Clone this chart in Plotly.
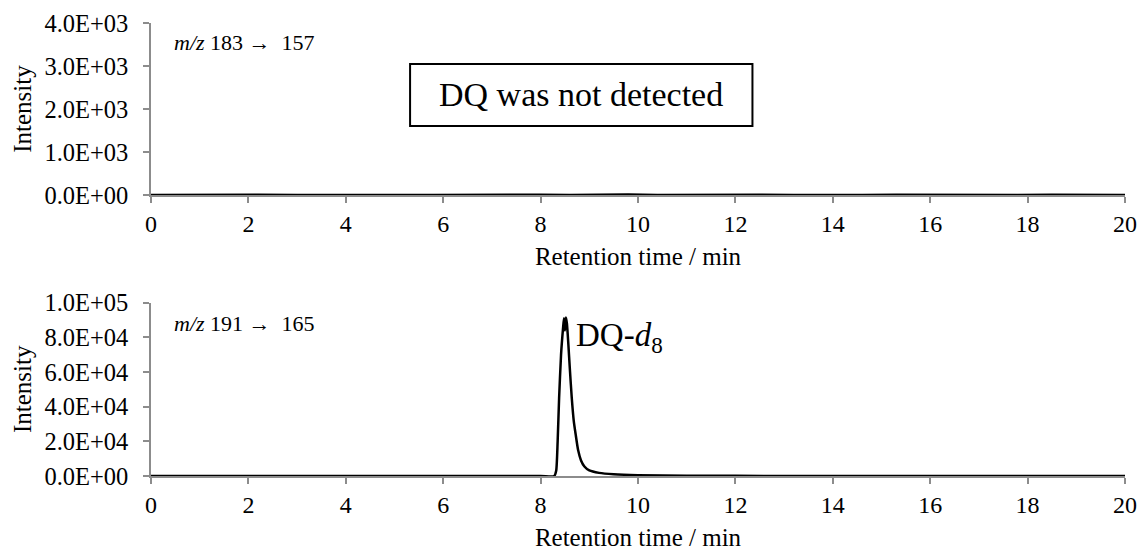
import plotly.graph_objects as go
from plotly.subplots import make_subplots

# Retention time axis ticks
x_ticks = [0, 2, 4, 6, 8, 10, 12, 14, 16, 18, 20]

# m/z 183 -> 157 (DQ): baseline only, small noise
t_dq = [0, 0.7, 1.5, 2.2, 3.0, 3.6, 4.3, 5.0, 5.8, 6.5, 7.2, 8.0, 8.6, 9.2, 9.8, 10.4,
        11.1, 11.8, 12.5, 13.2, 14.0, 14.6, 15.3, 16.0, 16.7, 17.1, 17.8, 18.5, 19.2, 20]
i_dq = [0, 6, 0, 4, 0, 5, 0, 3, 0, 7, 0, 5, 0, 8, 12, 0, 5, 0, 4, 0, 9, 0, 4, 0, 5,
        10, 0, 6, 0, 0]

# m/z 191 -> 165 (DQ-d8)
t_is = [0, 4.0, 8.0, 8.28, 8.32, 8.35, 8.38, 8.42, 8.46, 8.48, 8.50, 8.52, 8.54, 8.57,
        8.60, 8.64, 8.68, 8.72, 8.77, 8.83, 8.90, 9.0, 9.2, 9.5, 10.0, 11.0, 12.0, 14.0, 20]
i_is = [0, 0, 0, 0, 3000, 20000, 45000, 70000, 85000, 91000, 84000, 91500, 88000, 76000,
        62000, 45000, 32000, 24000, 15000, 9000, 5500, 3200, 1800, 1000, 500, 200, 80, 20, 0]

y1_vals = [0, 1000, 2000, 3000, 4000]
y1_text = ["0.0E+00", "1.0E+03", "2.0E+03", "3.0E+03", "4.0E+03"]
y2_vals = [0, 20000, 40000, 60000, 80000, 100000]
y2_text = ["0.0E+00", "2.0E+04", "4.0E+04", "6.0E+04", "8.0E+04", "1.0E+05"]

FONT = "Liberation Serif, Times New Roman, serif"
AXIS_GREY = "#8c8c8c"

fig = make_subplots(rows=2, cols=1, shared_xaxes=False, vertical_spacing=0.0)

fig.add_trace(go.Scatter(x=t_dq, y=i_dq, mode="lines",
                         line=dict(color="black", width=2.5), showlegend=False),
              row=1, col=1)
fig.add_trace(go.Scatter(x=t_is, y=i_is, mode="lines",
                         line=dict(color="black", width=2.5, shape="spline", smoothing=0.6),
                         showlegend=False),
              row=2, col=1)

common_x = dict(range=[0, 20], tickvals=x_ticks, ticks="outside", ticklen=6,
                tickcolor=AXIS_GREY, tickwidth=1.5, showline=True, linecolor=AXIS_GREY,
                linewidth=1.5, showgrid=False, zeroline=False, automargin=False,
                tickfont=dict(family=FONT, size=24, color="black"),
                title=dict(text="Retention time / min", standoff=12,
                           font=dict(family=FONT, size=25, color="black")))
common_y = dict(ticks="outside", ticklen=6, tickcolor=AXIS_GREY, tickwidth=1.5,
                showline=True, linecolor=AXIS_GREY, linewidth=1.5, showgrid=False,
                zeroline=False, ticklabelstandoff=10, automargin=False,
                tickfont=dict(family=FONT, size=24.5, color="black"),
                title=dict(text="Intensity", standoff=6,
                           font=dict(family=FONT, size=25, color="black")))

fig.update_xaxes(**common_x)
fig.update_yaxes(**common_y)
fig.update_layout(
    xaxis=dict(domain=[0, 1], anchor="y"),
    yaxis=dict(domain=[0.6203, 1], range=[0, 4000], tickvals=y1_vals, ticktext=y1_text),
    xaxis2=dict(domain=[0, 1], anchor="y2"),
    yaxis2=dict(domain=[0, 0.3826], range=[0, 100000], tickvals=y2_vals, ticktext=y2_text),
)

# Transition labels
fig.add_annotation(x=0.43, y=3550, xref="x", yref="y", xanchor="left", yanchor="middle",
                   text="<i>m/z</i> 183 →  157", showarrow=False,
                   font=dict(family=FONT, size=22, color="black"))
fig.add_annotation(x=0.43, y=88000, xref="x2", yref="y2", xanchor="left", yanchor="middle",
                   text="<i>m/z</i> 191 →  165", showarrow=False,
                   font=dict(family=FONT, size=22, color="black"))

# Boxed note in the DQ panel
fig.add_shape(type="rect", xref="x", yref="y", x0=5.32, x1=12.35, y0=1605, y1=3047,
              line=dict(color="black", width=2), fillcolor="white")
fig.add_annotation(x=8.83, y=2330, xref="x", yref="y", text="DQ was not detected",
                   showarrow=False, font=dict(family=FONT, size=34, color="black"))

# Peak label
fig.add_annotation(x=8.69, y=80000, xref="x2", yref="y2", xanchor="left", yanchor="middle",
                   text="DQ-<i>d</i><sub>8</sub>", showarrow=False,
                   font=dict(family=FONT, size=33, color="black"))

fig.update_layout(
    width=1140, height=554,
    margin=dict(l=151, r=15, t=23, b=78),
    paper_bgcolor="white", plot_bgcolor="white",
    font=dict(family=FONT, color="black"),
)

fig.write_html("out.html")
